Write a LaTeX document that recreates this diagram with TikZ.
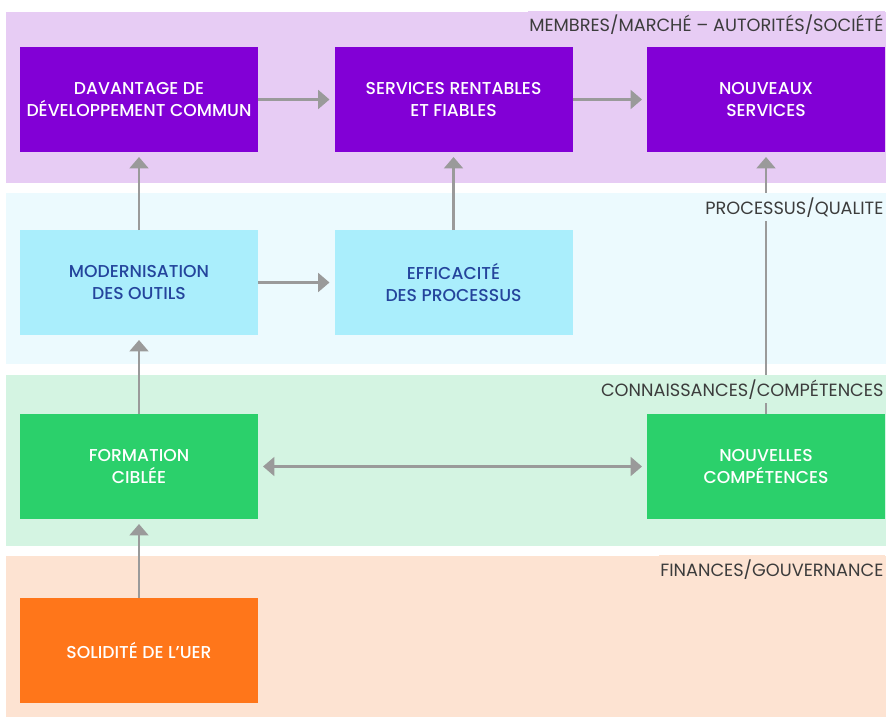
\documentclass[tikz,border=0pt]{standalone}
\usepackage{fontspec}
\setmainfont{Poppins}
\newfontfamily\boxfont{Poppins}[UprightFont=* Medium]
\usetikzlibrary{arrows.meta}

\definecolor{bandpurple}{HTML}{E7CCF4}
\definecolor{bandcyan}{HTML}{ECFAFE}
\definecolor{bandgreen}{HTML}{D4F4E2}
\definecolor{bandorange}{HTML}{FDE3D2}
\definecolor{boxpurple}{HTML}{8200D6}
\definecolor{boxcyan}{HTML}{AAEEFC}
\definecolor{boxgreen}{HTML}{2BD06B}
\definecolor{boxorange}{HTML}{FF761A}
\definecolor{textblue}{HTML}{24449C}
\definecolor{textgray}{HTML}{3C3C3C}
\definecolor{arrowgray}{HTML}{9A9A9A}

\tikzset{
  block/.style={minimum width=178.5pt, minimum height=78.75pt, inner sep=0pt,
    outer sep=0pt, align=center, font=\boxfont\fontsize{12.9}{15.9}\selectfont},
  purplebox/.style={block, fill=boxpurple, text=white},
  cyanbox/.style={block, fill=boxcyan, text=textblue},
  greenbox/.style={block, fill=boxgreen, text=white},
  orangebox/.style={block, fill=boxorange, text=white},
  bandlabel/.style={anchor=base east, inner xsep=1pt, inner ysep=3pt, text=textgray,
    font=\fontsize{13.3}{15}\selectfont},
  flow/.style={draw=arrowgray, line width=2pt,
    -{Triangle[width=14pt, length=8.5pt]}, shorten >=3.75pt},
  twoway/.style={draw=arrowgray, line width=2pt,
    {Triangle[width=14pt, length=8.5pt]}-{Triangle[width=14pt, length=8.5pt]},
    shorten >=3.75pt, shorten <=3.75pt},
}

\begin{document}
\begin{tikzpicture}[x=0.75pt, y=-0.75pt]
  \useasboundingbox[fill=white] (0,0) rectangle (887,717);

  % horizontal bands
  \fill[bandpurple] (6,12) rectangle (886,183);
  \fill[bandcyan]   (6,193) rectangle (886,364);
  \fill[bandgreen]  (6,375) rectangle (886,546);
  \fill[bandorange] (6,556) rectangle (886,717);

  % blocks
  \node[purplebox] (avantage)   at (139,99.5)   {DAVANTAGE DE\\DÉVELOPPEMENT COMMUN};
  \node[purplebox] (rentables)  at (453.5,99.5) {SERVICES RENTABLES\\ET FIABLES};
  \node[purplebox] (nouveaux)   at (766,99.5)   {NOUVEAUX\\SERVICES};
  \node[cyanbox]   (outils)     at (139,282.5)  {MODERNISATION\\DES OUTILS};
  \node[cyanbox]   (processus)  at (453.5,282.5){EFFICACITÉ\\DES PROCESSUS};
  \node[greenbox]  (formation)  at (139,466.5)  {FORMATION\\CIBLÉE};
  \node[greenbox]  (competences) at (766,466.5) {NOUVELLES\\COMPÉTENCES};
  \node[orangebox] (solidite)   at (139,650.5)  {SOLIDITÉ DE L’UER};

  % connectors
  \draw[flow] (avantage) -- (rentables);
  \draw[flow] (rentables) -- (nouveaux);
  \draw[flow] (outils) -- (avantage);
  \draw[flow] (processus) -- (rentables);
  \draw[flow] (outils) -- (processus);
  \draw[flow] (formation) -- (outils);
  \draw[flow] (solidite) -- (formation);
  \draw[twoway] (formation) -- (competences);
  \draw[flow] (competences) -- (nouveaux);

  % band titles
  \node[bandlabel, fill=bandpurple] (t1) at (885,32)  {MEMBRES/MARCHÉ – AUTORITÉS/SOCIÉTÉ};
  \node[bandlabel, fill=bandcyan]   (t2) at (885,214) {PROCESSUS/QUALITE};
  \node[bandlabel, fill=bandgreen]  (t3) at (885,396) {CONNAISSANCES/COMPÉTENCES};
  \node[bandlabel, fill=bandorange] (t4) at (885,576) {FINANCES/GOUVERNANCE};
\end{tikzpicture}
\end{document}
